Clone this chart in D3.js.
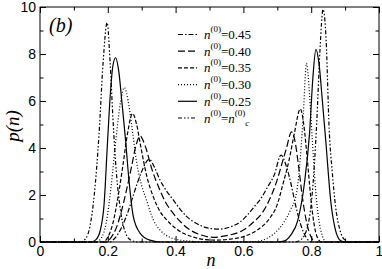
<!DOCTYPE html>
<html>
<head>
<meta charset="utf-8">
<script src="https://cdn.jsdelivr.net/npm/d3@7"></script>
<style>
  html, body { margin: 0; padding: 0; background: #fff; }
  svg { display: block; }
  .tick text { font-family: "Liberation Sans", Arial, sans-serif; font-size: 14px; fill: #000; }
  .serif { font-family: "Liberation Serif", "Times New Roman", serif; fill: #000; }
</style>
</head>
<body>
<svg id="chart" width="382" height="269"></svg>
<script>
// p(n) curves, one array of [n, p] per n(0) value
const curve045 = [[0,0],[0.205,0],[0.22,0.15],[0.24,0.6],[0.26,1.3],[0.28,2.2],[0.3,3.0],[0.322,3.52],[0.34,3.1],[0.354,2.64],[0.372,2.2],[0.393,1.79],[0.413,1.4],[0.433,1.08],[0.458,0.82],[0.482,0.65],[0.505,0.57],[0.53,0.55],[0.563,0.65],[0.59,0.85],[0.612,1.15],[0.632,1.5],[0.652,1.86],[0.672,2.35],[0.691,2.85],[0.711,3.7],[0.725,3.3],[0.74,2.5],[0.755,1.5],[0.77,0.7],[0.785,0.2],[0.8,0],[1,0]];
const curve040 = [[0,0],[0.195,0],[0.21,0.2],[0.225,0.6],[0.24,1.3],[0.255,2.2],[0.27,3.2],[0.283,4.1],[0.295,4.51],[0.31,4.1],[0.33,3.1],[0.354,2.2],[0.37,1.7],[0.393,1.22],[0.415,0.85],[0.443,0.51],[0.475,0.3],[0.51,0.2],[0.55,0.27],[0.6,0.51],[0.63,0.85],[0.658,1.29],[0.68,1.9],[0.698,2.57],[0.715,3.4],[0.727,3.99],[0.742,4.69],[0.752,4.3],[0.763,3.2],[0.775,1.8],[0.787,0.8],[0.8,0.2],[0.812,0],[1,0]];
const curve035 = [[0,0],[0.185,0],[0.2,0.2],[0.215,0.8],[0.23,1.9],[0.245,3.3],[0.258,4.6],[0.273,5.47],[0.285,5.0],[0.298,4.0],[0.315,2.8],[0.334,1.93],[0.354,1.3],[0.374,0.94],[0.4,0.58],[0.423,0.37],[0.45,0.22],[0.49,0.1],[0.52,0.08],[0.56,0.12],[0.6,0.23],[0.64,0.5],[0.677,1.0],[0.7,1.6],[0.716,2.43],[0.735,3.5],[0.75,4.6],[0.768,5.66],[0.778,5.0],[0.788,3.6],[0.798,2.0],[0.808,0.8],[0.818,0.2],[0.83,0],[1,0]];
const curve030 = [[0,0],[0.165,0],[0.18,0.15],[0.195,0.8],[0.21,2.4],[0.225,4.5],[0.238,6.0],[0.249,6.57],[0.26,6.0],[0.272,4.8],[0.285,3.4],[0.3,2.4],[0.314,1.79],[0.334,0.95],[0.354,0.51],[0.38,0.22],[0.403,0.11],[0.45,0.03],[0.5,0],[0.62,0],[0.66,0.1],[0.69,0.35],[0.72,0.85],[0.74,1.4],[0.757,2.1],[0.768,3.6],[0.777,5.5],[0.786,7.6],[0.795,6.3],[0.803,4.4],[0.812,2.4],[0.822,1.0],[0.832,0.3],[0.845,0],[1,0]];
const curve025 = [[0,0],[0.15,0],[0.165,0.1],[0.178,0.5],[0.189,1.6],[0.199,4.2],[0.208,6.4],[0.215,7.5],[0.223,7.84],[0.232,7.3],[0.242,5.9],[0.252,4.4],[0.262,2.7],[0.275,1.1],[0.295,0.38],[0.324,0.08],[0.36,0],[0.7,0],[0.722,0.05],[0.74,0.3],[0.76,0.9],[0.78,2.5],[0.795,4.6],[0.805,7.0],[0.814,8.2],[0.823,7.6],[0.833,6.0],[0.843,4.3],[0.858,1.7],[0.87,0.6],[0.887,0.05],[0.9,0],[1,0]];
const curveNc  = [[0,0],[0.12,0],[0.135,0.15],[0.147,0.64],[0.16,2.0],[0.174,4.55],[0.186,7.6],[0.198,9.33],[0.207,7.6],[0.215,5.3],[0.225,3.0],[0.238,1.3],[0.252,0.4],[0.268,0.08],[0.29,0],[0.75,0],[0.77,0.1],[0.79,0.7],[0.805,2.4],[0.816,5.0],[0.826,8.2],[0.835,9.9],[0.844,8.6],[0.853,4.8],[0.862,3.0],[0.872,1.5],[0.885,0.5],[0.9,0.08],[0.915,0],[1,0]];

const seriesData = [curve045, curve040, curve035, curve030, curve025, curveNc];
const legendValues = ["0.45", "0.40", "0.35", "0.30", "0.25", null]; // null -> n_c
const dashes = ["5,2,1.5,2", "7,3", "4,2", "1,2", null, "4,2,1.5,2,1.5,2"];

const xMajor = [0, 0.2, 0.4, 0.6, 0.8, 1];
const xMinor = [0.1, 0.3, 0.5, 0.7, 0.9];
const xTickLabels = ["0", "0.2", "0.4", "0.6", "0.8", "1"];
const yMajor = [0, 2, 4, 6, 8, 10];
const yMinor = [1, 3, 5, 7, 9];
const yTickLabels = ["0", "2", "4", "6", "8", "10"];

const svg = d3.select("#chart");
const plotLeft = 40, plotRight = 379, plotTop = 7, plotBottom = 242;

const x = d3.scaleLinear().domain([0, 1]).range([plotLeft, plotRight]);
const y = d3.scaleLinear().domain([0, 10]).range([plotBottom, plotTop]);

// axes, ticks pointing inward on all four sides
function addAxis(axis, tx, ty) {
  const g = svg.append("g").attr("transform", `translate(${tx},${ty})`).call(axis);
  g.select(".domain").remove();
  g.selectAll(".tick line").attr("stroke", "#000").attr("stroke-width", 1);
  return g;
}

addAxis(d3.axisBottom(x).tickValues(xMajor).tickSize(-6).tickPadding(4)
  .tickFormat((d, i) => xTickLabels[i]), 0, plotBottom);
addAxis(d3.axisBottom(x).tickValues(xMinor).tickSize(-3.5).tickFormat(""), 0, plotBottom);
addAxis(d3.axisTop(x).tickValues(xMajor).tickSize(-6).tickFormat(""), 0, plotTop);
addAxis(d3.axisTop(x).tickValues(xMinor).tickSize(-3.5).tickFormat(""), 0, plotTop);

addAxis(d3.axisLeft(y).tickValues(yMajor).tickSize(-6).tickPadding(4)
  .tickFormat((d, i) => yTickLabels[i]), plotLeft, 0);
addAxis(d3.axisLeft(y).tickValues(yMinor).tickSize(-3.5).tickFormat(""), plotLeft, 0);
addAxis(d3.axisRight(y).tickValues(yMajor).tickSize(-6).tickFormat(""), plotRight, 0);
addAxis(d3.axisRight(y).tickValues(yMinor).tickSize(-3.5).tickFormat(""), plotRight, 0);

svg.append("rect")
  .attr("x", plotLeft).attr("y", plotTop)
  .attr("width", plotRight - plotLeft).attr("height", plotBottom - plotTop)
  .attr("fill", "none").attr("stroke", "#000").attr("stroke-width", 1);

// curves
const line = d3.line()
  .x(d => x(d[0]))
  .y(d => y(d[1]))
  .curve(d3.curveMonotoneX);

svg.append("g").selectAll("path")
  .data(seriesData)
  .enter().append("path")
  .attr("d", line)
  .attr("fill", "none")
  .attr("stroke", "#000")
  .attr("stroke-width", 1.2)
  .attr("stroke-dasharray", (d, i) => dashes[i]);

// axis titles
svg.append("text").attr("class", "serif")
  .attr("transform", "translate(19,126) rotate(-90)")
  .attr("text-anchor", "middle")
  .style("font-size", "19px").style("font-style", "italic")
  .text("p(n)");

svg.append("text").attr("class", "serif")
  .attr("x", 211).attr("y", 266)
  .attr("text-anchor", "middle")
  .style("font-size", "18px").style("font-style", "italic")
  .text("n");

svg.append("text").attr("class", "serif")
  .attr("x", 49).attr("y", 32)
  .style("font-size", "20px").style("font-style", "italic")
  .text("(b)");

// legend
const legend = svg.append("g");
legendValues.forEach((v, i) => {
  const yb = 39 + i * 16.7;
  legend.append("line")
    .attr("x1", 178).attr("x2", 197)
    .attr("y1", yb - 4.5).attr("y2", yb - 4.5)
    .attr("stroke", "#000").attr("stroke-width", 1.2)
    .attr("stroke-dasharray", dashes[i]);

  const t = legend.append("text").attr("class", "serif")
    .attr("x", 204).attr("y", yb)
    .style("font-size", "13px");
  t.append("tspan").style("font-style", "italic").text("n");
  t.append("tspan").attr("dy", -7).style("font-size", "9px").text("(0)");
  if (v !== null) {
    t.append("tspan").attr("dy", 7).text("=" + v);
  } else {
    t.append("tspan").attr("dy", 7).text("=");
    t.append("tspan").style("font-style", "italic").text("n");
    t.append("tspan").attr("dy", -7).style("font-size", "9px").text("(0)");
    t.append("tspan").attr("dy", 10).style("font-size", "9px").style("font-style", "italic").text("c");
  }
});
</script>
</body>
</html>
